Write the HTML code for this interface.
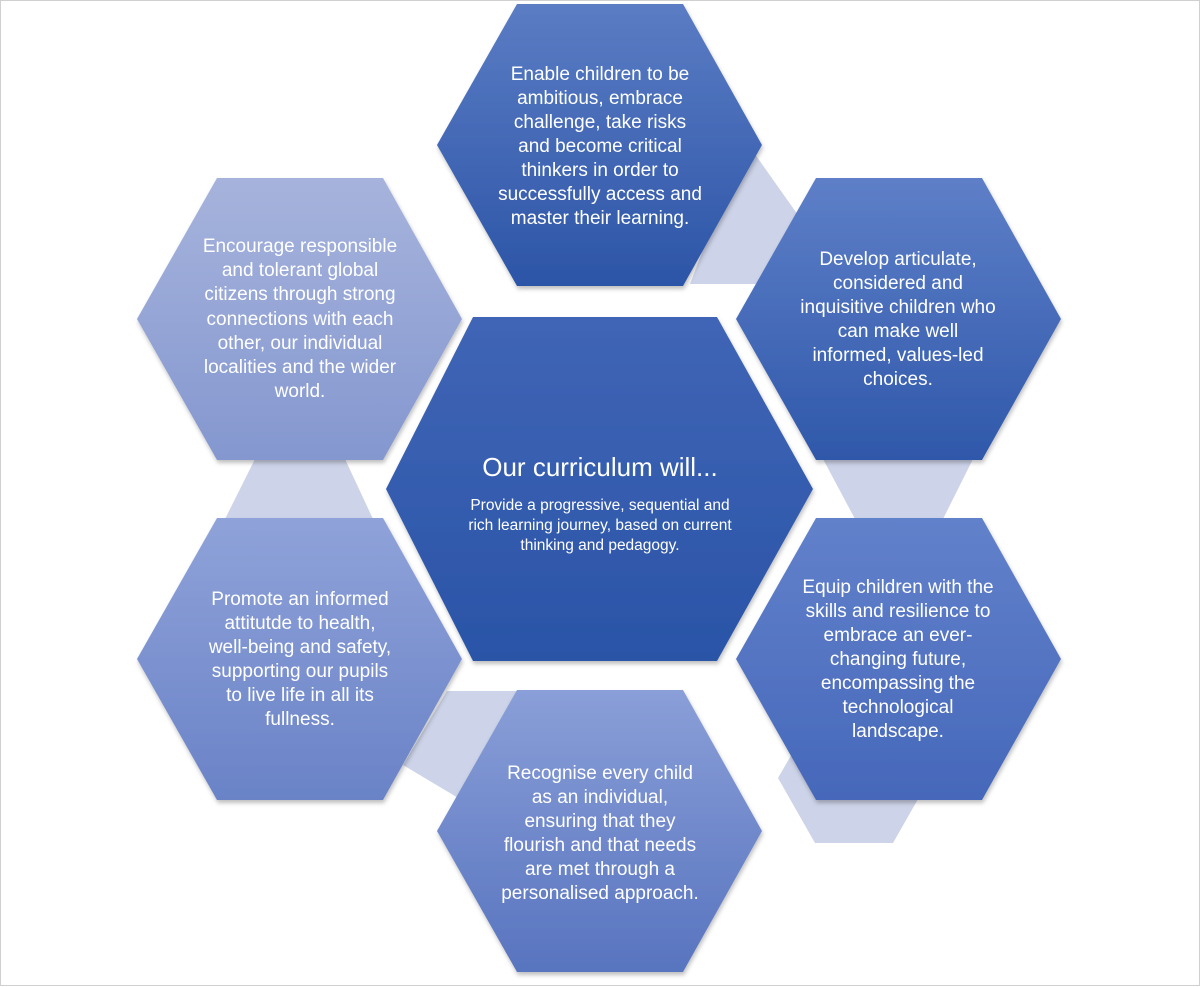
<!DOCTYPE html>
<html><head><meta charset="utf-8"><style>
html,body{margin:0;padding:0;background:#fff;}
svg{display:block;}
text{font-family:"Liberation Sans",sans-serif;fill:#fff;text-anchor:middle;}
</style></head><body>
<svg width="1201" height="987" viewBox="0 0 1201 987" xmlns="http://www.w3.org/2000/svg">
<defs>
<linearGradient id="gT" x1="0" y1="0" x2="0" y2="1"><stop offset="0" stop-color="#5b7cc4"/><stop offset="1" stop-color="#2c55a7"/></linearGradient>
<linearGradient id="gRU" x1="0" y1="0" x2="0" y2="1"><stop offset="0" stop-color="#5e7fc8"/><stop offset="1" stop-color="#2f58aa"/></linearGradient>
<linearGradient id="gRL" x1="0" y1="0" x2="0" y2="1"><stop offset="0" stop-color="#6281cb"/><stop offset="1" stop-color="#4668ba"/></linearGradient>
<linearGradient id="gB" x1="0" y1="0" x2="0" y2="1"><stop offset="0" stop-color="#8a9fd8"/><stop offset="1" stop-color="#5874bf"/></linearGradient>
<linearGradient id="gLL" x1="0" y1="0" x2="0" y2="1"><stop offset="0" stop-color="#8fa2d9"/><stop offset="1" stop-color="#6a83c7"/></linearGradient>
<linearGradient id="gLU" x1="0" y1="0" x2="0" y2="1"><stop offset="0" stop-color="#a6b3dc"/><stop offset="1" stop-color="#8497cf"/></linearGradient>
<linearGradient id="gC" x1="0" y1="0" x2="0" y2="1"><stop offset="0" stop-color="#4065b6"/><stop offset="1" stop-color="#2a54a7"/></linearGradient>
<filter id="sh" x="-10%" y="-10%" width="120%" height="120%"><feDropShadow dx="1" dy="3" stdDeviation="2" flood-color="#000" flood-opacity="0.25"/></filter>
</defs>
<rect x="0.5" y="0.5" width="1199" height="985" fill="#fff" stroke="#d0d0d0"/>
<!-- light connectors -->
<g fill="#cdd3e8">
<polygon points="745,140 805,225 760,284 690,284"/>
<polygon points="823,459 973,459 943,519 855,519"/>
<polygon points="800,740 778,778 815,843 893,843 930,778 905,740"/>
<polygon points="447,691 520,691 470,805 403,765"/>
<polygon points="255,459 345,459 373,519 225,519"/>
</g>
<g filter="url(#sh)">
<polygon fill="url(#gT)" points="437,145 517,4 683,4 762,145 683,286 517,286"/>
<polygon fill="url(#gRU)" points="736,319 816,178 982,178 1061,319 982,460 816,460"/>
<polygon fill="url(#gRL)" points="736,659 816,518 982,518 1061,659 982,800 816,800"/>
<polygon fill="url(#gB)" points="437,831 517,690 683,690 762,831 683,972 517,972"/>
<polygon fill="url(#gLL)" points="137,659 217,518 383,518 462,659 383,800 217,800"/>
<polygon fill="url(#gLU)" points="137,319 217,178 383,178 462,319 383,460 217,460"/>
<polygon fill="url(#gC)" points="386,489 473,317 717,317 813,489 717,661 473,661"/>
</g>
<g font-size="19">
<text x="600" y="80">Enable children to be</text>
<text x="600" y="104">ambitious, embrace</text>
<text x="600" y="128">challenge, take risks</text>
<text x="600" y="152">and become critical</text>
<text x="600" y="176">thinkers in order to</text>
<text x="600" y="200">successfully access and</text>
<text x="600" y="224">master their learning.</text>

<text x="300" y="252">Encourage responsible</text>
<text x="300" y="276">and tolerant global</text>
<text x="300" y="300">citizens through strong</text>
<text x="300" y="325">connections with each</text>
<text x="300" y="349">other, our individual</text>
<text x="300" y="373">localities and the wider</text>
<text x="300" y="397">world.</text>

<text x="898" y="265">Develop articulate,</text>
<text x="898" y="289">considered and</text>
<text x="898" y="313">inquisitive children who</text>
<text x="898" y="337">can make well</text>
<text x="898" y="361">informed, values-led</text>
<text x="898" y="385">choices.</text>

<text x="898" y="593">Equip children with the</text>
<text x="898" y="617">skills and resilience to</text>
<text x="898" y="641">embrace an ever-</text>
<text x="898" y="665">changing future,</text>
<text x="898" y="689">encompassing the</text>
<text x="898" y="713">technological</text>
<text x="898" y="737">landscape.</text>

<text x="300" y="605">Promote an informed</text>
<text x="300" y="629">attitutde to health,</text>
<text x="300" y="653">well-being and safety,</text>
<text x="300" y="677">supporting our pupils</text>
<text x="300" y="701">to live life in all its</text>
<text x="300" y="725">fullness.</text>

<text x="600" y="779">Recognise every child</text>
<text x="600" y="803">as an individual,</text>
<text x="600" y="827">ensuring that they</text>
<text x="600" y="851">flourish and that needs</text>
<text x="600" y="875">are met through a</text>
<text x="600" y="899">personalised approach.</text>
</g>
<text x="600" y="476" font-size="26">Our curriculum will...</text>
<g font-size="15.5">
<text x="600" y="510">Provide a progressive, sequential and</text>
<text x="600" y="530">rich learning journey, based on current</text>
<text x="600" y="550">thinking and pedagogy.</text>
</g>
</svg>
</body></html>
